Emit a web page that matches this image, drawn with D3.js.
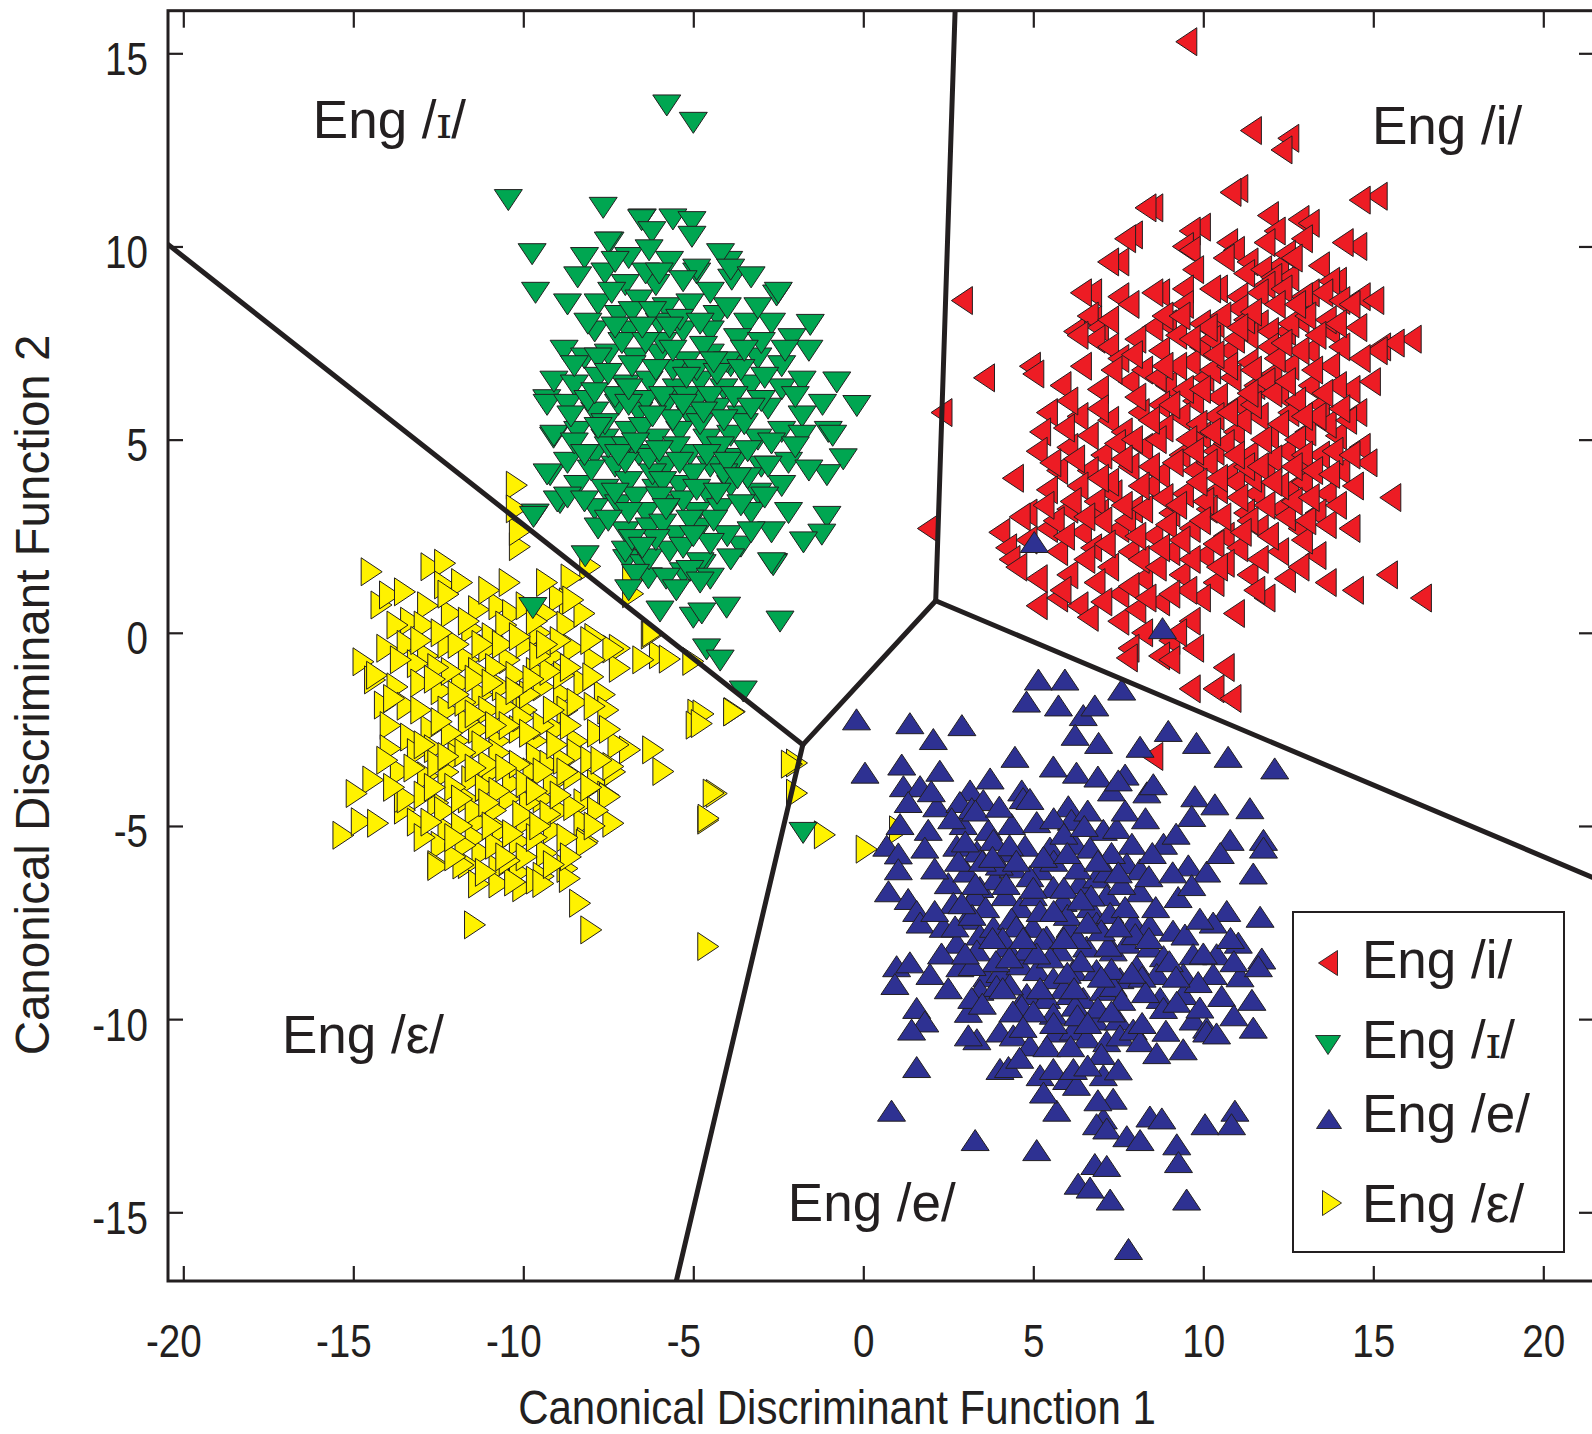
<!DOCTYPE html>
<html>
<head>
<meta charset="utf-8">
<script src="https://cdn.jsdelivr.net/npm/d3@7"></script>
<style>
  html, body { margin: 0; padding: 0; background: #fff; }
  svg { display: block; }
</style>
</head>
<body>
<svg id="chart" width="1592" height="1434"></svg>
<script>
// ---- axis ticks ----
const xTicks = [-20, -15, -10, -5, 0, 5, 10, 15, 20];
const yTicks = [-15, -10, -5, 0, 5, 10, 15];

// ---- vowel categories (legend order) ----
const vowels = ["i", "ɪ", "e", "ε"];

// ---- canonical discriminant scores [function 1, function 2] ----
const engI = [
  [9.5,15.3],[11.4,13.0],[12.5,12.8],[12.3,12.5],[11.0,11.5],[15.1,11.3],[8.5,11.0],[8.3,11.0],[10.8,11.4],[14.6,11.2],
  [11.9,10.8],[12.8,10.7],[13.1,10.6],[9.9,10.5],[9.6,10.4],[7.9,10.3],[7.7,10.2],[12.1,10.4],[14.5,10.0],[14.1,10.1],[11.8,10.1],[12.9,10.2],[10.7,10.1],[9.4,10.0],
  [7.5,9.6],[7.2,9.6],[9.6,9.9],[10.9,9.9],[11.3,9.6],[12.2,9.5],[13.4,9.5],[12.5,9.2],[11.2,9.3],[9.7,9.4],[12.4,9.8],[12.6,9.7],[10.6,9.7],[11.7,9.4],[12.0,9.2],[13.9,9.1],
  [6.7,8.8],[8.7,8.8],[10.4,8.9],[11.8,9.0],[13.1,8.8],[13.7,9.1],[2.9,8.6],[6.4,8.8],[7.5,8.7],[8.5,8.8],[9.4,8.9],[10.2,8.9],[14.6,8.7],[13.5,8.8],[12.9,8.7],[14.0,8.6],[11.0,8.7],[11.6,8.8],[12.3,8.9],
  [7.8,8.5],[9.4,8.5],[11.0,8.4],[12.1,8.5],[14.3,8.5],[15.0,8.6],[6.7,8.1],[8.9,8.0],[10.3,8.0],[11.6,8.0],[12.8,8.1],[13.7,7.8],[11.3,7.7],[12.4,7.8],[6.2,7.8],[6.6,8.2],[6.9,7.9],[6.8,7.6],[8.5,7.9],[8.8,8.2],[9.9,8.0],[10.5,8.2],[11.2,8.1],[11.9,7.8],[12.5,8.0],[13.0,8.2],[13.6,8.1],[14.5,7.9],
  [6.3,7.7],[7.2,7.4],[8.7,7.3],[9.9,7.4],[10.7,7.3],[11.9,7.4],[13.1,7.3],[14.0,7.4],[15.2,7.4],[16.1,7.6],[15.6,7.5],[15.1,7.3],[7.5,7.1],[9.6,7.0],[11.3,7.0],[12.5,6.9],[13.7,6.9],[14.6,7.1],[4.9,6.9],[5.0,6.7],
  [3.55,6.6],[5.8,6.4],[6.9,6.3],[7.8,6.5],[8.9,6.4],[10.0,6.6],[10.4,6.1],[11.5,6.4],[12.2,6.2],[13.1,6.4],[14.3,6.3],[14.9,6.5],[8.7,5.9],[9.7,6.0],[11.0,5.9],[13.4,5.9],[8.2,6.8],[10.2,6.8],[12.0,6.7],[6.4,6.9],
  [2.3,5.7],[5.4,5.7],[6.3,5.6],[7.2,5.5],[8.1,5.7],[9.3,5.6],[10.3,5.6],[11.6,5.6],[12.5,5.7],[14.5,5.7],[5.2,5.2],[6.6,5.1],[7.6,5.2],[8.8,5.3],[9.9,5.1],[10.9,5.2],[11.9,5.1],[13.0,5.2],[13.9,5.1],
  [5.1,4.7],[6.0,4.8],[7.0,4.6],[8.2,4.8],[9.3,4.6],[10.3,4.7],[11.3,4.6],[12.4,4.7],[13.4,4.6],[14.6,4.8],[5.7,4.2],[6.6,4.2],[7.8,4.3],[8.7,4.1],[9.7,4.2],[10.7,4.1],[11.8,4.2],[12.8,4.2],[14.0,4.2],
  [5.4,3.7],[6.3,3.8],[7.3,3.6],[8.4,3.8],[9.4,3.6],[10.4,3.7],[11.5,3.6],[12.5,3.7],[13.6,3.6],[14.4,3.8],[15.5,3.5],[4.8,3.1],[6.0,3.2],[6.9,3.1],[7.9,3.2],[9.0,3.1],[10.1,3.2],[11.2,3.1],[12.2,3.2],[13.3,3.1],
  [4.6,3.0],[4.0,2.6],[5.4,2.7],[6.4,2.6],[7.5,2.7],[8.5,2.5],[9.6,2.7],[10.6,2.5],[11.6,2.7],[12.8,2.7],[13.6,2.8],[14.3,2.7],[1.9,2.7],[4.2,2.2],[4.3,1.9],[5.7,2.1],[6.7,2.2],[7.8,2.1],[9.0,2.1],[10.0,2.0],[11.0,2.2],[12.2,2.1],[13.3,2.0],[15.4,1.5],
  [4.5,1.7],[5.1,1.4],[6.0,1.5],[7.2,1.7],[8.2,1.4],[9.3,1.5],[10.3,1.3],[11.3,1.5],[12.4,1.4],[13.6,1.3],[14.4,1.1],[16.4,0.9],[5.1,0.7],[5.7,0.9],[6.3,0.7],[7.5,1.0],[8.7,0.8],[9.9,0.9],[10.9,0.5],[11.8,0.9],
  [7.5,0.3],[8.2,0.0],[9.0,-0.2],[9.6,0.3],[7.8,-0.4],[8.7,-0.6],[9.7,-0.4],[9.0,-0.7],[10.6,-0.9],[9.6,-1.45],[10.3,-1.45],[10.8,-1.7],[7.75,-0.65],[8.5,-3.2],
  [8.6,5.0],[9.1,4.4],[9.8,5.4],[10.6,4.9],[11.1,5.5],[11.4,4.0],[12.0,4.5],[12.7,5.0],[10.0,3.4],[10.9,3.9],[11.8,3.3],[12.4,3.0],[9.4,6.3],[10.8,6.6],[11.4,6.8],[12.7,6.0],[13.2,6.8],[13.6,5.4],[12.1,7.1],[10.2,7.6],
  [9.2,7.7],[8.0,6.1],[7.4,4.9],[6.8,3.4],[7.7,2.9],[8.9,2.8],[10.3,2.3],[11.6,1.9],[12.9,2.4],[13.9,3.3],[14.8,4.4],[14.2,5.5],[12.9,3.9],[11.3,2.9],[9.6,1.9],[8.1,1.9],[6.5,1.9],[5.6,2.9],[6.2,4.5],[7.2,3.9],
  [5.9,5.3],[6.9,5.8],[7.9,5.0],[8.4,4.3],[9.0,5.9],[9.5,5.0],[10.1,4.4],[10.7,5.7],[11.2,4.3],[11.7,5.0],[12.2,5.4],[12.9,4.6],[13.3,5.6],[13.8,4.7],[14.3,4.6],[6.1,3.4],[7.0,2.9],[7.6,3.3],[8.2,3.2],[8.8,3.5],
  [9.3,2.4],[9.9,2.9],[10.5,3.0],[11.0,3.5],[11.9,2.5],[12.6,3.4],[13.0,2.9],[6.8,1.3],[7.8,1.2],[8.6,1.7],[9.5,1.1],[10.6,1.8],[11.5,1.1],[12.8,1.7],[7.3,6.8],[8.6,6.6],[9.2,6.9],[10.7,6.9],[11.8,6.5],[12.8,7.3],
  [13.9,6.4],[14.0,5.8],[10.1,7.9],[11.4,8.3],[12.3,7.5],[13.3,7.7],[9.3,8.2],[10.9,7.6],[12.7,8.5],[13.9,8.0],[7.2,8.1],[8.0,7.6],[6.0,6.0],[5.5,4.4],[4.4,4.0],[4.8,2.4],[5.8,1.1],[6.6,0.4],[8.0,0.6],[9.2,0.0],
  [5.3,3.3],[5.9,2.5],[6.5,3.0],[7.1,2.3],[8.0,2.5],[8.7,2.2],[9.2,3.3],[9.8,3.9],[10.4,4.0],[10.9,4.6],[11.6,4.3],[12.2,3.8],[12.6,4.3],[13.2,4.2],[13.1,3.5],[12.0,3.9],[11.1,2.6],[10.4,1.7],[9.0,1.0],[8.3,0.9],
  [7.0,0.8],[6.9,4.0],[7.6,4.5],[8.1,3.8],[9.7,4.7],[10.2,5.2],[11.4,5.9],[12.0,6.2],[12.4,6.5],[13.5,6.2],[11.0,7.9],[10.3,7.2],[9.6,7.6],[8.8,6.9],[7.9,7.2],[8.4,5.5],[9.9,6.3],[11.3,6.2],[12.9,5.6],[13.7,4.1]
];

const engSmallCapI = [
  [-5.78,13.65],[-5.0,13.2],[-10.44,11.2],[-7.65,11.0],[-9.74,9.8],[-9.64,8.8],[-6.5,10.7],[-5.6,10.7],[-5.04,10.63],[-5.04,10.25],[-6.52,10.68],[-6.22,10.37],[-7.45,10.1],[-3.96,9.6],[-3.87,9.14],[-4.9,9.3],
  [-2.55,8.73],[-1.56,7.97],[-0.78,6.48],[-0.19,5.87],[-1.03,5.2],[-0.59,4.49],[-1.07,4.08],[-1.07,3.0],[-1.22,2.54],[-1.76,2.34],[-2.64,1.78],[-2.45,0.29],[-4.02,0.65],[-5.0,0.39],[-5.98,0.55],[-9.72,0.64],
  [-8.18,1.98],[-4.61,-0.43],[-4.21,-0.72],[-3.53,-1.52],[-9.31,6.02],[-9.11,5.05],[-9.21,4.08],[-9.65,3.06],[-8.92,3.36],[-1.77,-5.18],[-2.65,1.75],[-4.75,0.5],
  [-6.96,1.88],[-6.47,1.75],[-6.32,1.41],[-5.29,1.54],[-4.74,1.75],[-3.6,2.23],
  [-8.2,9.7],[-7.5,10.1],[-6.9,9.7],[-6.3,9.9],[-5.7,9.6],[-4.9,9.4],[-4.2,9.8],[-3.9,9.4],[-3.3,9.2],[-8.4,9.2],[-7.6,9.3],[-7.0,9.0],[-6.1,9.0],[-2.5,8.8],
  [-8.7,8.5],[-7.8,8.5],[-7.2,8.2],[-6.6,8.6],[-5.8,8.4],[-5.1,8.5],[-4.3,8.2],[-3.4,8.0],[-2.7,8.0],[-7.9,7.8],[-6.9,7.8],[-6.0,8.0],[-5.3,7.8],[-4.5,7.8],[-3.7,7.6],[-2.1,7.6],[-1.6,7.3],
  [-8.8,7.3],[-8.2,7.1],[-7.5,7.2],[-6.7,7.1],[-6.0,7.2],[-5.2,7.0],[-4.5,7.2],[-3.9,6.9],[-3.1,7.1],[-2.4,6.9],[-9.1,6.5],[-8.5,6.4],[-7.8,6.6],[-7.0,6.4],[-6.3,6.5],[-5.5,6.3],[-4.8,6.5],[-4.1,6.3],[-3.3,6.4],[-2.4,6.3],[-1.8,6.5],
  [-9.3,5.9],[-8.7,5.9],[-7.9,5.7],[-7.2,5.9],[-6.6,5.7],[-5.8,5.9],[-5.1,5.6],[-4.3,5.8],[-3.6,5.6],[-2.8,5.8],[-1.8,5.6],[-1.2,5.9],[-9.1,5.1],[-8.4,5.2],[-7.6,5.0],[-6.9,5.2],[-6.1,5.0],[-5.4,5.2],[-4.6,5.0],[-3.9,5.1],[-3.1,5.0],[-2.4,5.2],[-1.8,5.1],[-0.9,5.1],
  [-9.3,4.1],[-8.7,4.4],[-7.9,4.6],[-7.3,4.3],[-6.6,4.6],[-5.8,4.3],[-5.1,4.6],[-4.5,4.3],[-3.7,4.5],[-3.0,4.3],[-2.2,4.4],[-1.6,4.2],[-8.4,3.8],[-7.6,3.7],[-6.9,3.9],[-6.1,3.7],[-5.4,3.8],[-4.6,3.6],[-3.9,3.8],[-3.1,3.6],[-2.4,3.8],
  [-9.7,3.0],[-9.0,3.4],[-8.7,3.5],[-7.9,3.2],[-7.2,3.3],[-6.4,3.1],[-5.7,3.3],[-4.9,3.1],[-4.2,3.2],[-3.3,3.1],[-7.8,2.7],[-7.0,2.6],[-6.3,2.7],[-5.5,2.5],[-4.8,2.7],[-4.0,2.5],[-2.7,2.6],
  [-7.0,2.1],[-6.3,1.9],[-5.7,2.1],[-4.8,1.8],[-3.9,1.9],[-2.7,1.8],[-6.7,1.5],[-5.8,1.4],[-5.1,1.6],[-4.5,1.4],[-5.5,1.1],[-4.8,1.3],[-6.9,1.1],
  [-6.4,6.0],[-5.6,6.8],[-4.9,6.0],[-6.8,6.9],[-5.0,4.1],[-6.2,4.1],[-4.2,4.8],[-5.6,5.5],[-6.5,5.3],[-4.0,7.0],[-7.3,6.1],[-5.9,7.5],[-4.7,7.4],[-3.5,5.4],[-5.3,3.4],[-6.7,3.5],[-4.4,2.9],[-5.9,2.8],[-7.5,4.8],[-3.4,4.0],
  [-8.1,6.0],[-7.6,5.4],[-7.0,4.8],[-6.3,4.5],[-5.5,4.8],[-4.8,5.4],[-4.1,5.5],[-3.4,4.7],[-2.7,4.9],[-2.0,4.8],[-8.0,4.2],[-7.0,4.4],[-5.9,3.9],[-4.9,3.7],[-4.1,4.1],[-3.6,3.3],[-2.9,3.5],[-8.2,3.4],[-6.9,3.1],[-6.0,3.5],
  [-5.1,2.9],[-4.5,2.3],[-5.3,2.2],[-6.1,2.4],[-6.8,2.4],[-7.5,2.9],[-3.3,2.6],[-2.2,3.1],[-8.5,6.9],[-7.8,7.1],[-7.1,7.5],[-6.4,7.5],[-5.6,7.3],[-4.9,6.8],[-4.3,6.7],[-3.6,6.8],[-2.9,6.6],[-2.0,6.1],[-8.6,5.6],[-7.9,6.2],
  [-6.9,5.9],[-5.9,6.1],[-5.2,6.1],[-4.5,6.1],[-3.8,6.1],[-3.0,6.0],[-6.8,8.3],[-6.2,8.3],[-5.4,8.1],[-4.8,8.0],[-4.0,8.4],[-7.4,8.8],[-5.3,9.1],[-4.5,8.8],[-3.1,8.4],[-3.0,7.5],[-2.3,7.3],[-8.1,8.0],[-7.3,9.6],[-6.4,9.3],
  [-8.5,4.9],[-7.8,5.3],[-7.2,4.6],[-6.7,4.9],[-6.0,4.7],[-5.4,4.4],[-4.6,4.6],[-4.0,4.4],[-3.3,5.8],[-4.7,5.7],[-5.3,5.9],[-6.2,5.6],[-6.9,6.3],[-7.5,6.7],[-6.1,6.8],[-5.2,6.6],[-4.4,7.0],[-3.5,7.3],[-5.7,7.9],[-6.5,7.9],
  [-7.3,7.9],[-5.8,3.2],[-6.5,2.2],[-5.0,2.5],[-4.3,3.6],[-3.7,4.0],[-2.8,4.3],[-7.3,3.6],[-8.2,4.6],[-6.0,9.3]
];

const engE = [
  [5.15,-1.21],[5.93,-1.21],[4.8,-1.78],[5.74,-1.88],[6.47,-2.13],[6.81,-1.88],[7.6,-1.47],[-0.2,-2.24],[1.37,-2.34],[2.06,-2.75],[2.9,-2.39],[6.23,-2.64],[6.92,-2.85],[8.14,-2.95],[8.97,-2.54],[9.8,-2.85],
  [10.73,-3.21],[12.1,-3.51],[0.05,-3.62],[1.13,-3.41],[2.25,-3.57],[4.46,-3.21],[5.59,-3.46],[6.27,-3.62],[6.9,-3.72],[7.7,-3.67],[1.18,-3.97],[1.67,-3.97],[2.16,-4.49],[1.32,-4.38],[3.14,-4.08],[3.53,-4.33],
  [3.73,-3.77],[4.66,-4.08],[4.7,-4.28],[6.03,-4.49],[7.3,-4.08],[7.5,-3.82],[8.34,-4.13],[8.53,-3.92],[9.75,-4.23],[10.34,-4.44],[11.37,-4.54],[9.66,-4.74],[1.08,-4.95],[1.91,-5.1],[2.84,-4.38],[2.94,-4.95],
  [3.19,-4.54],[3.68,-5.1],[4.36,-4.95],[5.1,-4.9],[6.12,-4.84],[7.06,-5.1],[7.45,-5.05],[7.9,-5.46],[8.83,-5.46],[10.79,-5.36],[11.77,-5.36],[11.77,-5.56],[0.69,-5.51],[1.03,-5.71],[1.81,-5.56],[2.75,-5.51],
  [3.34,-5.66],[3.83,-5.36],[4.27,-5.66],[4.76,-5.51],[5.49,-5.56],[6.23,-5.46],[6.67,-5.56],[7.75,-5.97],[8.14,-6.12],[9.56,-6.02],[10.1,-6.18],[11.47,-6.23],[1.03,-6.12],[2.5,-6.48],[3.04,-6.18],[3.43,-6.58],
  [3.87,-6.38],[4.41,-6.07],[5.2,-6.12],[5.59,-6.58],[6.37,-6.48],[6.86,-6.33],[7.16,-6.18],[0.74,-6.69],[1.32,-6.89],[1.57,-7.2],[2.65,-6.99],[3.29,-6.79],[4.17,-6.79],[4.61,-7.1],[5.0,-6.79],[5.88,-6.94],
  [6.67,-7.1],[7.16,-6.79],[8.14,-6.69],[9.26,-6.84],[9.66,-6.53],[10.69,-7.2],[11.67,-7.35],[1.67,-7.5],[2.35,-7.61],[3.04,-7.4],[3.43,-7.81],[3.83,-7.61],[4.36,-7.4],[4.99,-7.61],[5.39,-7.86],[6.08,-7.61],
  [6.86,-7.5],[7.26,-7.25],[7.94,-7.5],[8.43,-7.56],[9.11,-7.71],[9.46,-7.81],[10.29,-7.5],[11.03,-8.02],[2.75,-8.02],[3.34,-8.22],[4.22,-8.12],[5.29,-7.92],[5.78,-8.22],[6.57,-8.12],[7.35,-8.22],[7.75,-8.02],
  [8.43,-8.12],[8.83,-8.37],[9.7,-8.32],[10.39,-8.32],[11.72,-8.43],[0.98,-8.63],[1.37,-8.53],[1.96,-8.83],[2.84,-8.63],[3.63,-8.89],[4.02,-8.78],[4.61,-8.58],[5.1,-8.73],[5.59,-8.94],[6.18,-8.73],[6.86,-8.73],
  [7.55,-8.94],[8.04,-8.63],[8.63,-8.83],[9.41,-8.83],[10.29,-8.83],[11.08,-8.89],[11.62,-8.63],[0.93,-9.09],[3.43,-9.24],[3.92,-9.14],[4.81,-9.35],[5.39,-9.45],[6.08,-9.35],[6.47,-9.45],[7.06,-9.24],[7.35,-9.14],
  [8.73,-9.45],[9.41,-9.35],[9.85,-9.04],[10.54,-9.4],[11.43,-9.5],[1.57,-9.71],[1.81,-10.06],[1.42,-10.27],[3.09,-9.81],[3.19,-9.45],[4.66,-9.65],[5.59,-9.86],[6.23,-9.65],[6.81,-10.01],[7.5,-10.01],[8.83,-9.71],
  [9.22,-9.55],[9.7,-10.01],[10.1,-10.22],[11.47,-10.22],[3.34,-10.52],[3.09,-10.42],[4.02,-10.32],[4.41,-10.42],[4.9,-10.68],[5.69,-10.32],[6.18,-10.27],[6.57,-10.47],[7.16,-10.57],[7.55,-10.42],[7.94,-10.27],[8.14,-10.57],
  [8.63,-10.88],[9.41,-10.78],[10.1,-10.32],[10.39,-10.37],[1.57,-11.24],[4.02,-11.29],[4.27,-11.24],[5.2,-11.45],[5.59,-11.29],[5.98,-11.55],[6.27,-11.7],[6.18,-11.29],[7.06,-11.45],[7.35,-12.06],[7.06,-12.57],[6.86,-12.72],
  [7.16,-12.83],[5.69,-12.37],[0.83,-12.37],[3.29,-13.13],[5.1,-13.39],[6.81,-13.75],[7.16,-13.8],[6.32,-14.26],[6.67,-14.36],[7.26,-14.67],[8.43,-12.52],[8.78,-12.57],[7.75,-13.03],[8.14,-13.13],[9.22,-13.24],[9.27,-13.7],
  [10.05,-12.72],[10.93,-12.37],[10.83,-12.72],[9.51,-14.67],[7.8,-15.95],[5.03,2.35],[8.8,0.12],
  [4.0,-6.0],[4.9,-6.3],[5.6,-5.9],[6.3,-6.1],[5.2,-7.2],[6.0,-7.3],[6.7,-6.8],[4.5,-7.6],[3.6,-7.1],[7.6,-6.5],[8.4,-6.3],[5.5,-8.4],[6.4,-8.5],[7.2,-8.1],[4.8,-8.2],[8.0,-7.8],[3.9,-8.5],[6.9,-9.7],[5.9,-9.2],[4.4,-9.8],
  [2.0,-4.1],[2.6,-4.8],[3.3,-4.6],[4.0,-4.5],[4.9,-4.3],[5.6,-4.8],[6.6,-4.6],[7.7,-4.6],[8.3,-4.8],[9.2,-5.2],[2.1,-6.1],[2.8,-5.9],[3.5,-5.9],[4.3,-5.5],[5.9,-5.2],[6.5,-5.0],[7.3,-5.7],[8.5,-5.7],[9.1,-6.2],[10.5,-5.7],
  [2.1,-7.2],[2.7,-7.6],[3.2,-7.3],[4.1,-7.9],[5.6,-7.2],[6.3,-7.9],[7.0,-7.7],[8.6,-7.1],[9.9,-7.4],[10.8,-7.9],[2.3,-8.3],[3.2,-8.6],[4.3,-8.4],[5.1,-8.3],[6.0,-8.8],[7.3,-8.7],[8.2,-8.9],[9.0,-8.5],[10.0,-8.3],[10.9,-8.5],
  [2.5,-9.2],[3.5,-9.6],[4.3,-9.1],[5.0,-9.8],[6.3,-9.9],[7.6,-9.5],[8.3,-9.3],[9.9,-9.7],[10.9,-9.9],[4.7,-10.2],[5.4,-10.7],[6.1,-10.7],[7.0,-10.9],[8.2,-10.1],[8.9,-10.3],[4.6,-11.0],[6.6,-11.2],[7.5,-11.3],[5.3,-11.9],[6.9,-12.1],
  [3.0,-5.4],[3.8,-5.8],[4.5,-5.9],[5.3,-5.8],[6.0,-5.7],[6.9,-5.9],[7.5,-6.2],[3.3,-6.5],[4.2,-6.5],[5.0,-6.6],[5.9,-6.6],[6.4,-6.9],[7.7,-7.1],[2.9,-7.0],[3.8,-7.9],[4.7,-7.9],[5.9,-7.9],[6.6,-7.5],[7.5,-7.6],[8.4,-7.9],
  [3.0,-8.3],[4.1,-9.2],[5.2,-9.2],[6.2,-9.2],[7.0,-8.9],[7.9,-8.8],[9.2,-8.9],[5.6,-10.1],[6.6,-10.1],[7.3,-9.8]
];

const engEpsilon = [
  [-14.46,1.58],[-12.7,1.71],[-12.3,1.8],[-12.3,1.24],[-14.17,0.72],[-13.92,0.98],[-13.48,1.06],[-14.7,-0.75],[-14.36,-1.22],[-14.07,-1.87],[-14.41,-3.81],[-14.9,-4.16],[-15.29,-5.24],[-14.75,-4.89],[-14.27,-4.93],[-13.48,-4.59],
  [-13.48,-4.29],[-11.42,-7.56],[-8.0,-7.69],[-8.33,-7.0],[-4.56,-8.12],[-4.31,-4.16],[-4.56,-4.85],[-4.85,-2.08],[-4.9,-2.39],[-3.78,-2.04],[-5.98,-0.57],[-6.47,-0.7],[-7.16,-0.4],[-7.16,-0.92],[-6.18,-3.03],[-5.88,-3.59],
  [-6.86,-3.03],[-10.1,2.23],[-10.1,2.62],[-5.0,-0.74],[-6.22,-0.06],[-10.19,3.82],[-10.19,3.21],[-8.03,1.72],[-8.58,1.42],[-6.77,1.37],[-6.77,1.01],[-8.63,0.8],[-8.92,0.9],[-6.18,0.0],[-5.69,-0.68],[-7.35,-0.42],
  [-7.88,-0.12],[-1.95,-3.37],[-2.1,-3.4],[-1.95,-4.15],[-1.13,-5.23],[0.1,-5.6],[1.08,-5.1],[-4.4,-4.15],[-4.55,-4.8],[-3.8,-2.05],[-4.7,-2.1],[-4.75,-2.35],
  [-13.3,0.3],[-12.8,0.7],[-12.1,0.5],[-11.3,0.6],[-10.7,0.7],[-10.3,0.5],[-9.9,0.7],[-9.3,0.5],[-8.7,0.2],[-8.2,0.5],[-11.0,1.1],[-10.4,1.3],[-11.8,1.3],[-9.3,1.3],[-13.7,0.2],
  [-14.0,-0.4],[-13.4,-0.3],[-12.8,-0.6],[-12.2,-0.3],[-11.6,-0.7],[-11.0,-0.4],[-10.4,-0.7],[-9.9,-0.3],[-9.1,-0.6],[-8.5,-0.4],[-7.9,-0.7],[-13.1,-0.8],[-11.3,-1.0],[-9.6,-1.0],
  [-14.3,-1.1],[-13.7,-1.4],[-13.0,-1.3],[-12.4,-1.5],[-11.8,-1.3],[-11.2,-1.6],[-10.6,-1.4],[-10.0,-1.6],[-9.4,-1.4],[-8.8,-1.6],[-8.2,-1.3],[-7.6,-1.6],[-7.5,-2.0],[-13.4,-1.9],[-12.2,-2.0],[-11.0,-2.0],[-9.9,-2.0],[-8.7,-2.0],
  [-13.9,-2.4],[-13.3,-2.7],[-12.7,-2.5],[-11.9,-2.8],[-11.3,-2.5],[-10.7,-2.8],[-10.1,-2.5],[-9.6,-2.8],[-9.0,-2.5],[-8.4,-2.8],[-7.8,-2.6],[-7.2,-2.9],[-13.1,-3.1],[-11.9,-3.2],[-10.7,-3.1],[-9.6,-3.2],[-8.4,-3.1],
  [-13.6,-3.6],[-12.8,-3.7],[-12.2,-3.6],[-11.5,-3.8],[-10.9,-3.6],[-10.3,-3.9],[-9.7,-3.6],[-9.1,-3.9],[-8.5,-3.7],[-7.8,-3.9],[-7.3,-3.6],[-13.4,-4.3],[-12.5,-4.4],[-11.6,-4.3],[-10.4,-4.3],[-9.4,-4.3],[-8.2,-4.4],[-7.5,-4.2],
  [-13.1,-4.9],[-12.2,-5.1],[-11.3,-4.9],[-10.6,-5.1],[-9.9,-4.9],[-9.1,-5.1],[-8.2,-4.9],[-12.4,-5.5],[-11.2,-5.7],[-10.1,-5.4],[-9.3,-5.7],[-8.1,-5.4],[-12.5,-6.0],[-11.6,-6.0],[-10.7,-6.1],[-10.1,-6.2],[-9.4,-6.3],[-8.7,-6.1],
  [-10.7,-6.5],[-10.0,-6.6],[-9.6,-6.4],[-11.3,-6.5],[-8.63,-6.36],[-9.41,-6.49],[-10.24,-6.45],[-11.76,-6.01],[-12.5,-6.05],[-8.13,-5.45],[-7.35,-4.93],[-7.45,-4.24],[-7.35,-3.46],[-7.45,-2.5],[-7.94,-1.14],[-8.0,-0.2],[-8.53,0.85],
  [-11.0,-3.4],[-10.0,-2.2],[-11.6,-2.3],[-10.5,-1.9],[-9.2,-3.4],[-12.0,-4.0],[-10.8,-4.6],[-9.8,-4.4],[-11.4,-5.3],[-12.1,-1.0],[-10.2,-1.1],[-9.5,0.0],[-11.5,0.1],[-12.6,-3.0],[-8.9,-4.6],[-9.9,-5.8],[-8.8,-1.1],[-10.9,-0.1],[-13.9,-3.0],[-12.9,-5.3],
  [-12.9,0.2],[-11.6,0.3],[-10.5,0.2],[-9.6,0.3],[-8.9,-0.2],[-13.6,-0.7],[-12.5,-0.9],[-11.7,-1.8],[-11.4,-1.2],[-10.8,-0.9],[-9.8,-1.6],[-9.2,-1.0],[-8.4,-1.8],[-13.0,-2.0],[-12.9,-2.9],[-12.1,-2.6],[-11.2,-2.9],[-10.4,-2.4],[-9.4,-2.4],[-8.6,-2.4],
  [-8.0,-3.3],[-13.2,-3.5],[-12.5,-3.4],[-11.7,-3.1],[-11.1,-4.0],[-10.1,-3.4],[-9.4,-3.6],[-8.8,-3.3],[-8.0,-4.0],[-12.9,-4.2],[-12.3,-4.6],[-11.4,-4.6],[-10.7,-4.1],[-10.0,-4.7],[-9.2,-4.7],[-8.5,-4.5],[-7.8,-4.6],[-12.7,-4.9],[-11.8,-5.0],[-11.7,-5.5],
  [-10.8,-5.5],[-10.4,-5.9],[-9.6,-5.3],[-8.7,-5.3],[-8.6,-5.8],[-11.1,-6.2],[-9.1,-6.0],[-12.0,-5.8],[-13.8,-1.7],[-14.0,-3.3],[-13.8,-4.0],[-13.0,-0.2],[-11.9,-0.3],[-10.6,-0.3],[-9.5,-0.6],[-8.6,-0.9],[-7.9,-1.9],[-7.7,-3.3],[-7.9,-5.0],[-12.2,1.0],
  [-12.4,0.0],[-11.2,-0.3],[-10.1,-0.1],[-9.3,-0.3],[-12.6,-1.2],[-11.9,-1.6],[-10.9,-1.3],[-10.2,-1.5],[-9.7,-1.2],[-9.1,-2.0],[-12.4,-2.3],[-11.4,-2.1],[-10.8,-2.4],[-9.8,-2.6],[-9.0,-2.9],[-12.2,-3.2],[-11.4,-3.5],[-10.5,-3.5],[-9.9,-3.9],[-8.7,-3.6],
  [-12.6,-4.0],[-11.8,-4.3],[-11.0,-4.4],[-9.6,-4.1],[-8.9,-4.2],[-12.0,-5.3],[-10.9,-5.0],[-10.3,-5.2],[-9.5,-5.0],[-10.5,-5.8]
];

// ---- territorial map: boundaries between the four classification regions ----
const boundarySegments = [
  [[-20.46, 10.06], [-1.78, -2.9]],
  [[-1.78, -2.9], [-5.5, -16.78]],
  [[-1.78, -2.9], [2.13, 0.83]],
  [[2.13, 0.83], [2.7, 16.1]],
  [[2.13, 0.83], [21.45, -6.33]]
];

// ---- layout ----
const frame = { left: 168, right: 1594, top: 10.7, bottom: 1281 };
const ink = "#231f20";
const colors = ["#ed1c24", "#00a651", "#2e3192", "#fff200"];
const series = [engI, engSmallCapI, engE, engEpsilon];
const drawOrder = [3, 0, 1, 2];
const labelFont = "'Liberation Sans', Arial, Helvetica, sans-serif";

const x = d3.scaleLinear().domain([-20, 20]).range([183.3, 1543.3]);
const y = d3.scaleLinear().domain([-15, 15]).range([1212.3, 53.3]);

const svg = d3.select("#chart");

// marker shapes: left, down, up and right pointing triangles
function triangles(h, a) {
  return [
    `M${-a},0L${a},${-h}L${a},${h}Z`,
    `M${-h},${-a}L${h},${-a}L0,${a}Z`,
    `M0,${-a}L${h},${a}L${-h},${a}Z`,
    `M${a},0L${-a},${-h}L${-a},${h}Z`
  ];
}
const shapes = triangles(14, 10.5);
const legendShapes = triangles(12.5, 9.5);

svg.append("defs").append("clipPath").attr("id", "plotClip")
  .append("rect")
  .attr("x", frame.left).attr("y", frame.top)
  .attr("width", frame.right - frame.left).attr("height", frame.bottom - frame.top);

// scatter
const plot = svg.append("g").attr("clip-path", "url(#plotClip)");
drawOrder.forEach(k => {
  plot.append("g")
    .selectAll("path")
    .data(series[k])
    .join("path")
    .attr("d", shapes[k])
    .attr("transform", d => `translate(${x(d[0])},${y(d[1])})`)
    .attr("fill", colors[k])
    .attr("stroke", ink)
    .attr("stroke-width", 1)
    .attr("stroke-linejoin", "miter");
});

// boundary lines
plot.append("g")
  .selectAll("line")
  .data(boundarySegments)
  .join("line")
  .attr("x1", d => x(d[0][0])).attr("y1", d => y(d[0][1]))
  .attr("x2", d => x(d[1][0])).attr("y2", d => y(d[1][1]))
  .attr("stroke", ink)
  .attr("stroke-width", 5)
  .attr("stroke-linecap", "round");

// helper: label text with the vowel symbol set in its own face
function vowelLabel(sel, vowel) {
  sel.append("tspan").text("Eng /");
  const v = sel.append("tspan").text(vowel);
  if (vowel === "ɪ") v.attr("font-family", "'DejaVu Serif', 'Liberation Serif', serif").attr("font-size", "0.86em");
  sel.append("tspan").text("/");
}

// region names
const regionLabels = [
  { v: "ɪ", at: [-16.19, 12.81] },
  { v: "i", at: [14.96, 12.65] },
  { v: "ε", at: [-17.1, -10.88] },
  { v: "e", at: [-2.22, -15.23] }
];
regionLabels.forEach(r => {
  const t = svg.append("text")
    .attr("x", x(r.at[0])).attr("y", y(r.at[1]))
    .attr("font-family", labelFont).attr("font-size", 53).attr("fill", ink);
  vowelLabel(t, r.v);
});

// axes
const fmt = d => String(d);
const gBottom = svg.append("g").attr("transform", `translate(0,${frame.bottom})`)
  .call(d3.axisBottom(x).tickValues(xTicks).tickFormat(fmt).tickSize(-15).tickSizeOuter(0).tickPadding(44));
const gTop = svg.append("g").attr("transform", `translate(0,${frame.top})`)
  .call(d3.axisTop(x).tickValues(xTicks).tickFormat("").tickSize(-17).tickSizeOuter(0));
const gLeft = svg.append("g").attr("transform", `translate(${frame.left},0)`)
  .call(d3.axisLeft(y).tickValues(yTicks).tickFormat(fmt).tickSize(-15).tickSizeOuter(0).tickPadding(20));
const gRight = svg.append("g").attr("transform", `translate(${frame.right},0)`)
  .call(d3.axisRight(y).tickValues(yTicks).tickFormat("").tickSize(-15).tickSizeOuter(0));

[gBottom, gTop, gLeft, gRight].forEach(g => {
  g.select(".domain").remove();
  g.selectAll(".tick line").attr("stroke", ink).attr("stroke-width", 2.2);
  g.selectAll("text").attr("font-family", labelFont).attr("font-size", 46).attr("fill", ink);
});
gBottom.selectAll(".tick text")
  .attr("y", null).attr("dy", null)
  .attr("transform", d => `translate(${d < 0 ? -10 : 0},76) scale(0.84,1)`);
gLeft.selectAll(".tick text")
  .attr("x", null).attr("dy", null)
  .attr("transform", "translate(-20,21) scale(0.84,1)");

// frame
svg.append("rect")
  .attr("x", frame.left).attr("y", frame.top)
  .attr("width", frame.right - frame.left).attr("height", frame.bottom - frame.top)
  .attr("fill", "none").attr("stroke", ink).attr("stroke-width", 3);

// axis titles
svg.append("text")
  .attr("transform", `translate(837,1424) scale(0.885,1)`)
  .attr("text-anchor", "middle")
  .attr("font-family", labelFont).attr("font-size", 47.5).attr("fill", ink)
  .text("Canonical Discriminant Function 1");
svg.append("text")
  .attr("transform", `translate(49,695) rotate(-90)`)
  .attr("text-anchor", "middle")
  .attr("font-family", labelFont).attr("font-size", 47.5).attr("fill", ink)
  .text("Canonical Discriminant Function 2");

// legend
const legend = svg.append("g");
legend.append("rect")
  .attr("x", 1293).attr("y", 912).attr("width", 271).attr("height", 340)
  .attr("fill", "#fff").attr("stroke", ink).attr("stroke-width", 2);
const legendRows = [
  { mark: [1328, 963], base: 978 },
  { mark: [1328, 1045], base: 1058 },
  { mark: [1329, 1119], base: 1132 },
  { mark: [1332, 1203], base: 1222 }
];
vowels.forEach((v, k) => {
  const row = legendRows[k];
  legend.append("path")
    .attr("d", legendShapes[k])
    .attr("transform", `translate(${row.mark[0]},${row.mark[1]})`)
    .attr("fill", colors[k]).attr("stroke", ink).attr("stroke-width", 0.9);
  const t = legend.append("text")
    .attr("x", 1362).attr("y", row.base)
    .attr("font-family", labelFont).attr("font-size", 53).attr("fill", ink);
  vowelLabel(t, v);
});
</script>
</body>
</html>
